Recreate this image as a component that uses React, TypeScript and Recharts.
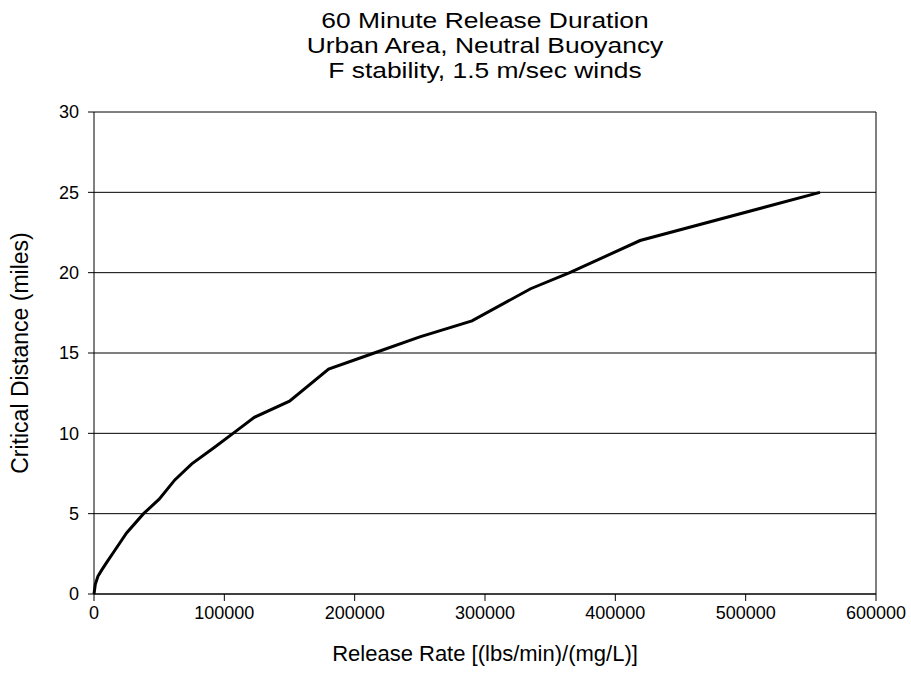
import { LineChart, Line, XAxis, YAxis, CartesianGrid, ReferenceLine } from "recharts";

// release rate [(lbs/min)/(mg/L)] vs. critical distance (miles)
const releaseRate = [
  0, 1000, 3000, 6000, 10000, 15000, 25000, 38000, 50000, 62000, 75000, 92000,
  110000, 123000, 150000, 180000, 215000, 250000, 290000, 335000, 365000, 419000, 557000,
];
const criticalDistance = [
  0, 0.6, 1.1, 1.5, 2.0, 2.6, 3.8, 5.0, 5.9, 7.1, 8.1, 9.1,
  10.2, 11.0, 12.0, 14.0, 15.0, 16.0, 17.0, 19.0, 20.0, 22.0, 25.0,
];
const xTicks = [0, 100000, 200000, 300000, 400000, 500000, 600000];
const yTicks = [0, 5, 10, 15, 20, 25, 30];
const titleLines = [
  "60 Minute Release Duration",
  "Urban Area, Neutral Buoyancy",
  "F stability, 1.5 m/sec winds",
];

const data = releaseRate.map((rate, i) => ({ rate, dist: criticalDistance[i] }));

const font = "'Liberation Sans', Arial, Helvetica, sans-serif";
const tickStyle = { fill: "#000", fontSize: 18, fontFamily: font };

export default function App() {
  return (
    <div style={{ position: "absolute", left: 0, top: 0, width: 911, height: 679, background: "#fff", fontFamily: font }}>
      <div
        style={{
          position: "absolute",
          left: 0,
          top: 8,
          width: 970,
          textAlign: "center",
          fontSize: 22,
          lineHeight: "25px",
          color: "#000",
          transform: "scaleX(1.2)",
          transformOrigin: "485px 0",
        }}
      >
        {titleLines.map((t) => (
          <div key={t}>{t}</div>
        ))}
      </div>
      <LineChart width={911} height={679} data={data} margin={{ top: 112, right: 35, bottom: 55, left: 34 }}>
        <CartesianGrid vertical={false} stroke="#000" strokeWidth={1} />
        <XAxis
          dataKey="rate"
          type="number"
          domain={[0, 600000]}
          ticks={xTicks}
          interval={0}
          height={30}
          stroke="#000"
          tickSize={7}
          tickMargin={5}
          tick={tickStyle}
        />
        <YAxis
          type="number"
          domain={[0, 30]}
          ticks={yTicks}
          interval={0}
          width={60}
          stroke="#000"
          tickSize={6}
          tickMargin={9}
          tick={tickStyle}
        />
        <ReferenceLine x={600000} stroke="#000" strokeWidth={1} />
        <Line
          type="linear"
          dataKey="dist"
          stroke="#000"
          strokeWidth={3}
          dot={false}
          isAnimationActive={false}
        />
      </LineChart>
      <div
        style={{
          position: "absolute",
          left: 0,
          width: 970,
          top: 641,
          textAlign: "center",
          fontSize: 22,
          color: "#000",
        }}
      >
        Release Rate [(lbs/min)/(mg/L)]
      </div>
      <div
        style={{
          position: "absolute",
          left: 20,
          top: 353,
          fontSize: 23,
          color: "#000",
          whiteSpace: "nowrap",
          transform: "translate(-50%, -50%) rotate(-90deg)",
        }}
      >
        Critical Distance (miles)
      </div>
    </div>
  );
}
